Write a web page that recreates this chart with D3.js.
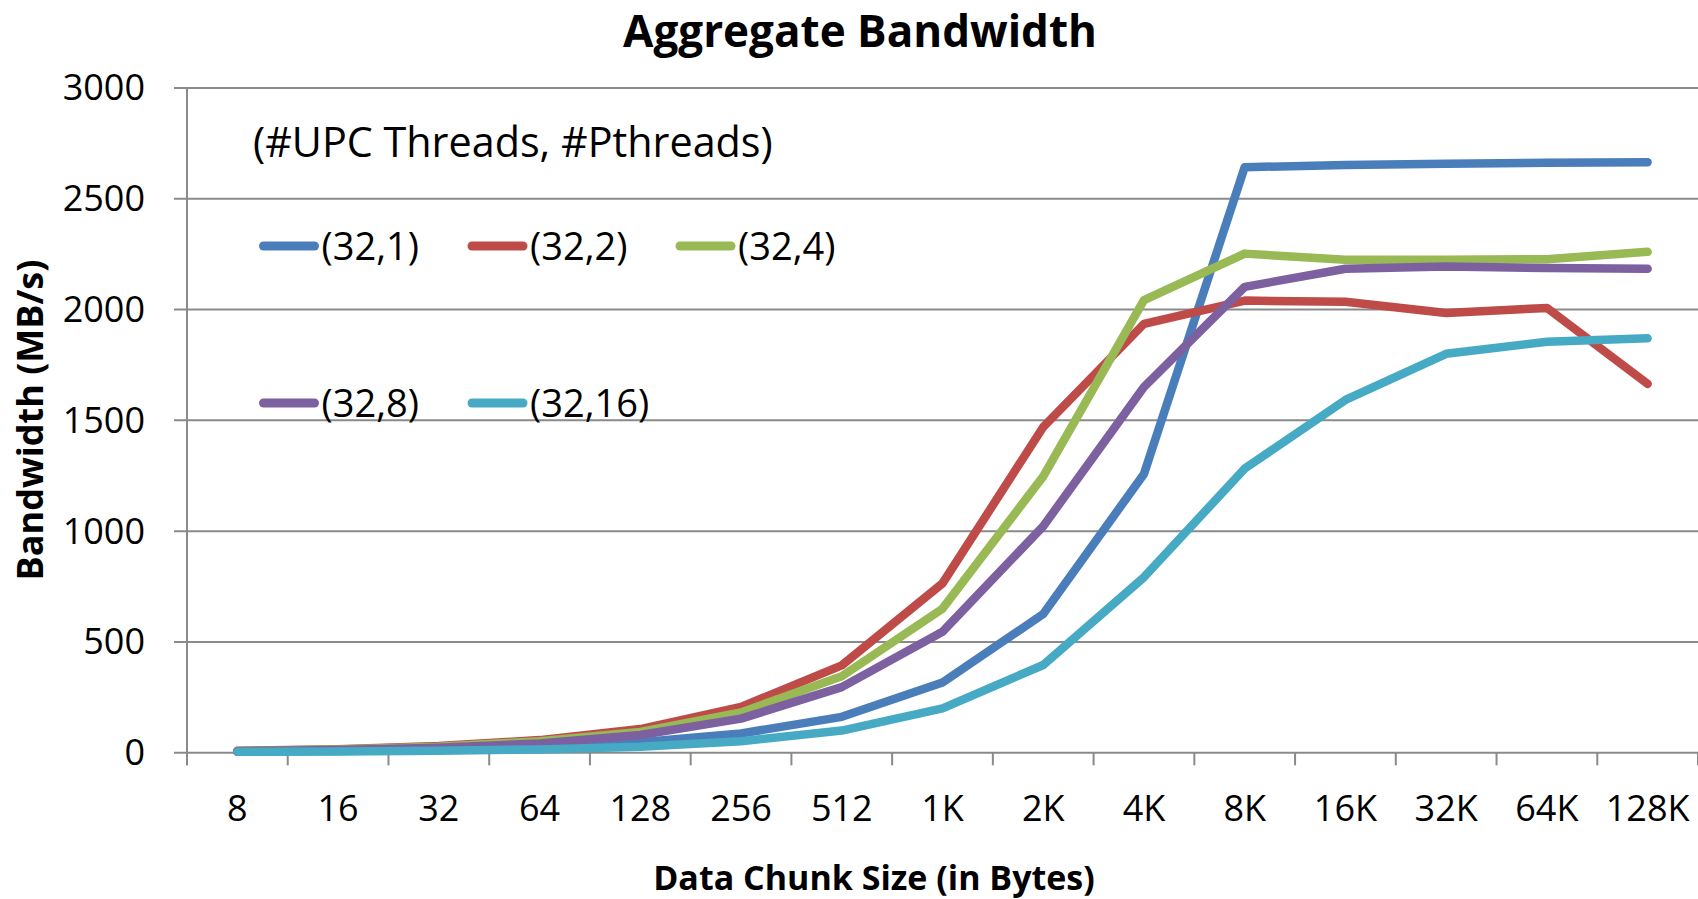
<!DOCTYPE html>
<html>
<head>
<meta charset="utf-8">
<script src="https://cdn.jsdelivr.net/npm/d3@7/dist/d3.min.js"></script>
<style>
  html, body { margin: 0; padding: 0; background: #fff; }
  svg { display: block; }
  text { font-family: 'Open Sans', 'Liberation Sans', sans-serif; fill: #000; }
</style>
</head>
<body>
<svg id="chart"></svg>
<script>
// ----------
var chunkSizes = ['8', '16', '32', '64', '128', '256', '512', '1K', '2K', '4K', '8K', '16K', '32K', '64K', '128K'];
var seriesNames = ['(32,1)', '(32,2)', '(32,4)', '(32,8)', '(32,16)'];
var seriesColors = ['#4a7ebb', '#be4b48', '#98b954', '#7d60a0', '#46aac5'];

var bw32x1 = [3, 6, 11, 22, 45, 85, 160, 315, 624, 1256, 2640, 2650, 2655, 2660, 2662];
var bw32x2 = [7, 14, 28, 55, 105, 205, 392, 762, 1468, 1933, 2038, 2033, 1982, 2005, 1662];
var bw32x4 = [6, 13, 25, 50, 92, 180, 343, 648, 1245, 2040, 2250, 2222, 2222, 2225, 2258];
var bw32x8 = [5, 10, 20, 40, 78, 152, 294, 544, 1020, 1648, 2100, 2182, 2192, 2185, 2182];
var bw32x16 = [2, 4, 7, 13, 25, 50, 98, 198, 394, 790, 1280, 1590, 1798, 1852, 1868];

var yTicks = [0, 500, 1000, 1500, 2000, 2500, 3000];

var seriesValues = [bw32x1, bw32x2, bw32x4, bw32x8, bw32x16];

// ----------
var width = 1698;
var height = 899;
var plotLeft = 187;
var plotRight = 1698;
var plotTop = 87.4;
var plotBottom = 752.3;
var gridColor = '#8a8a8a';

var svg = d3.select('#chart')
  .attr('width', width)
  .attr('height', height);

svg.append('rect')
  .attr('width', width)
  .attr('height', height)
  .attr('fill', '#fff');

var x = d3.scaleBand()
  .domain(chunkSizes)
  .range([plotLeft, plotRight]);

var y = d3.scaleLinear()
  .domain([0, 3000])
  .range([plotBottom, plotTop]);

// ----------
// horizontal gridlines plus the little ticks left of the axis
var yAxis = d3.axisLeft(y)
  .tickValues(yTicks)
  .tickSize(plotRight - plotLeft + 13);

svg.append('g')
  .attr('transform', 'translate(' + plotRight + ',0)')
  .call(yAxis)
  .call(function(g) {
    g.select('.domain').remove();
    g.selectAll('.tick line')
      .attr('stroke', gridColor)
      .attr('stroke-width', 2);
    g.selectAll('.tick text').remove();
  });

// y tick labels
svg.append('g')
  .selectAll('text')
  .data(yTicks)
  .join('text')
  .attr('x', 145)
  .attr('y', function(d) { return y(d); })
  .attr('dy', '0.36em')
  .attr('text-anchor', 'end')
  .style('font-size', '36px')
  .text(function(d) { return d; });

// y axis line
svg.append('line')
  .attr('x1', plotLeft)
  .attr('x2', plotLeft)
  .attr('y1', plotTop)
  .attr('y2', plotBottom + 13)
  .attr('stroke', gridColor)
  .attr('stroke-width', 2);

// ----------
// x axis: ticks sit on the band edges
var edges = chunkSizes.map(function(d) { return x(d); }).concat([plotRight]);

svg.append('g')
  .selectAll('line')
  .data(edges)
  .join('line')
  .attr('x1', function(d) { return d; })
  .attr('x2', function(d) { return d; })
  .attr('y1', plotBottom)
  .attr('y2', plotBottom + 13)
  .attr('stroke', gridColor)
  .attr('stroke-width', 2);

svg.append('g')
  .selectAll('text')
  .data(chunkSizes)
  .join('text')
  .attr('x', function(d) { return x(d) + x.bandwidth() / 2; })
  .attr('y', 820.5)
  .attr('text-anchor', 'middle')
  .style('font-size', '36px')
  .text(function(d) { return d; });

// ----------
// the series
var line = d3.line()
  .x(function(d, i) { return x(chunkSizes[i]) + x.bandwidth() / 2; })
  .y(function(d) { return y(d); });

svg.append('g')
  .selectAll('path')
  .data(seriesValues)
  .join('path')
  .attr('d', line)
  .attr('fill', 'none')
  .attr('stroke', function(d, i) { return seriesColors[i]; })
  .attr('stroke-width', 8.5)
  .attr('stroke-linejoin', 'round')
  .attr('stroke-linecap', 'round');

// ----------
// titles
svg.append('text')
  .attr('x', 860)
  .attr('y', 47)
  .attr('text-anchor', 'middle')
  .style('font-size', '44px')
  .style('font-weight', 'bold')
  .text('Aggregate Bandwidth');

svg.append('text')
  .attr('x', 874)
  .attr('y', 890)
  .attr('text-anchor', 'middle')
  .style('font-size', '34px')
  .style('font-weight', 'bold')
  .text('Data Chunk Size (in Bytes)');

svg.append('text')
  .attr('transform', 'translate(43,420) rotate(-90)')
  .attr('text-anchor', 'middle')
  .style('font-size', '36px')
  .style('font-weight', 'bold')
  .text('Bandwidth (MB/s)');

// ----------
// legend
svg.append('text')
  .attr('x', 253)
  .attr('y', 157)
  .style('font-size', '41.3px')
  .text('(#UPC Threads, #Pthreads)');

var legendRows = [246, 403];
var legendCols = [263.5, 472, 680];

var legend = svg.append('g')
  .selectAll('g')
  .data(seriesNames)
  .join('g')
  .attr('transform', function(d, i) {
    return 'translate(' + legendCols[i % 3] + ',' + legendRows[Math.floor(i / 3)] + ')';
  });

legend.append('line')
  .attr('x1', 0)
  .attr('x2', 51)
  .attr('stroke', function(d, i) { return seriesColors[i]; })
  .attr('stroke-width', 9)
  .attr('stroke-linecap', 'round');

legend.append('text')
  .attr('x', 58)
  .attr('y', 13.5)
  .style('font-size', '38px')
  .text(function(d) { return d; });
</script>
</body>
</html>
